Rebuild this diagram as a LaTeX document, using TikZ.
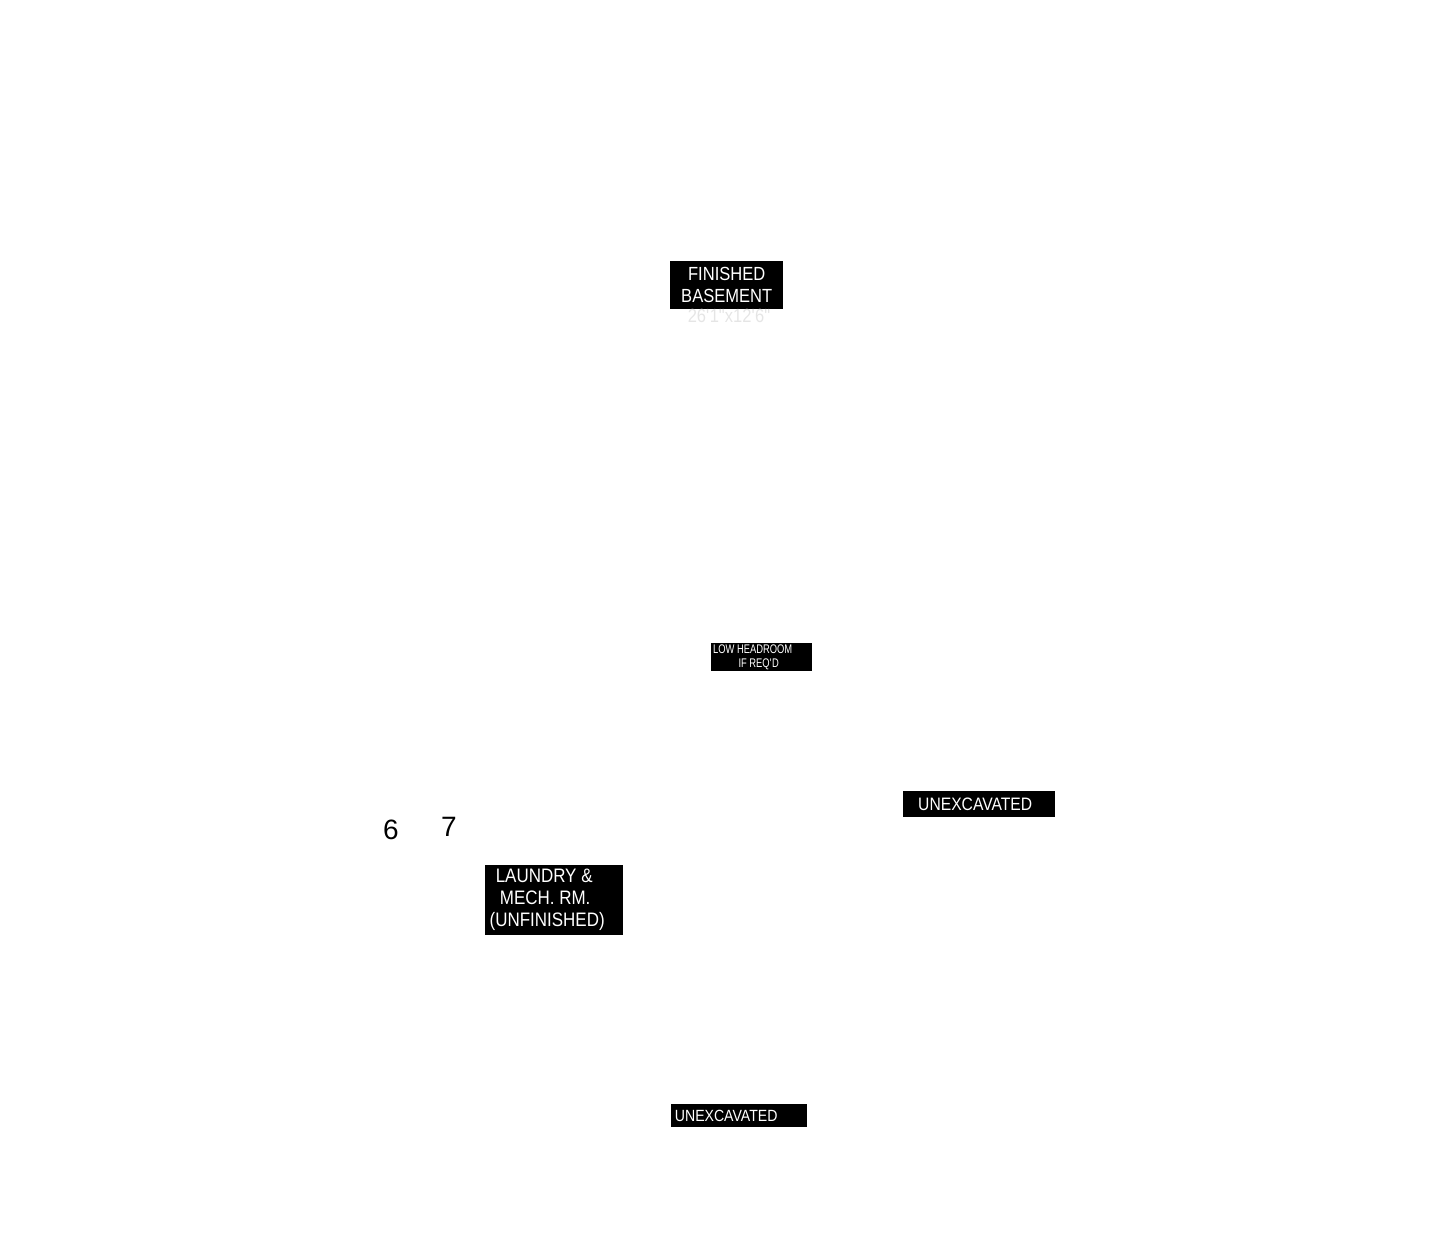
\documentclass[tikz,border=0pt]{standalone}
\usepackage{fontspec}
\setmainfont{Liberation Sans}
\newfontfamily\tagfont[FakeStretch=0.87]{Liberation Sans}
\newfontfamily\notefont[FakeStretch=0.75]{Liberation Sans}
\usetikzlibrary{positioning}

\tikzset{
  roomtag/.style={fill=black, text=white, align=center, inner sep=0pt, anchor=north west},
  roomnum/.style={text=black, inner sep=0pt, font=\fontsize{28}{30}\selectfont},
}

\begin{document}
\begin{tikzpicture}[x=1pt, y=-1pt]
  \useasboundingbox (0,0) rectangle (1454,1240);

  % Finished basement
  \node[roomtag, minimum width=113pt, minimum height=48pt, font=\tagfont\fontsize{19}{22}\selectfont] (basement) at (670,261) {FINISHED\\BASEMENT};
  \node[text=black!10, inner sep=0pt, font=\tagfont\fontsize{19}{22}\selectfont] (basedim) at (729,316) {26\textquotesingle1"x12\textquotesingle6"};

  % Low headroom note
  \node[roomtag, minimum width=101pt, minimum height=28pt, font=\notefont\fontsize{12.5}{14}\selectfont] (headroom) at (711,643) {LOW HEADROOM\kern18pt\\IF REQ\textquotesingle D\kern6pt};

  % Unexcavated areas
  \node[roomtag, minimum width=152pt, minimum height=26pt, font=\tagfont\fontsize{18}{22}\selectfont] (unexright) at (903,791) {UNEXCAVATED\kern8pt};
  \node[roomtag, minimum width=136pt, minimum height=23pt, font=\tagfont\fontsize{16.2}{20}\selectfont] (unexbottom) at (671,1104) {UNEXCAVATED\kern26pt};

  % Laundry
  \node[roomtag, minimum width=138pt, minimum height=70pt, font=\tagfont\fontsize{19.5}{22}\selectfont] (laundry) at (485,865) {LAUNDRY \&\kern20pt\\MECH.~RM.\kern18pt\\(UNFINISHED)\kern14pt};

  % Room numbers
  \node[roomnum] (six) at (391,830) {6};
  \node[roomnum] (seven) at (449,827) {7};
\end{tikzpicture}
\end{document}
